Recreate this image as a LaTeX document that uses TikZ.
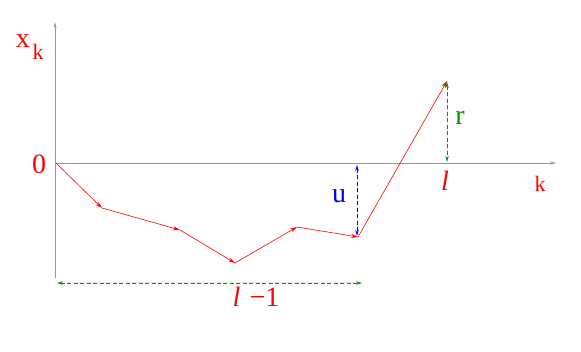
\documentclass[tikz,border=0pt]{standalone}
\usepackage{fontspec}
\setmainfont{Liberation Serif}
\usetikzlibrary{arrows.meta}
\definecolor{dgreen}{RGB}{0,150,0}
\definecolor{axisgray}{RGB}{150,150,150}
\begin{document}
\begin{tikzpicture}[x=1pt,y=-1pt,
  axis/.style={draw=axisgray,line width=0.8pt,-{Stealth[length=6pt,width=3pt]}},
  walk/.style={draw=red,line width=0.6pt,-{Stealth[length=7pt,width=4pt]}},
  gap/.style={draw=#1,fill=#1,dash pattern=on 4pt off 2.5pt,line width=0.9pt,{Stealth[length=6pt,width=3.5pt]}-{Stealth[length=6pt,width=3.5pt]}},
  lab/.style={inner sep=0pt,font=\fontsize{28}{28}\selectfont},
  smlab/.style={inner sep=0pt,text=red,font=\fontsize{22}{22}\selectfont}]
\useasboundingbox (0,0) rectangle (581,352);
\coordinate (o) at (55,163);
\coordinate (ytop) at (55,22);
\coordinate (ybot) at (55,278);
\coordinate (xend) at (556,163);
\draw[axis] (ybot) -- (ytop);
\draw[axis] (o) -- (xend);
\coordinate (p0) at (56,163);
\coordinate (p1) at (102,208);
\coordinate (p2) at (180,230);
\coordinate (p3) at (235,263);
\coordinate (p4) at (297,227);
\coordinate (p5) at (358,237);
\coordinate (p6) at (447,81);
\draw[walk] (p0) -- (p1);
\draw[walk] (p1) -- (p2);
\draw[walk] (p2) -- (p3);
\draw[walk] (p3) -- (p4);
\draw[walk] (p4) -- (p5);
\draw[walk] (p5) -- (p6);
\coordinate (ua) at (357,165);
\coordinate (ub) at (357,236);
\draw[gap=blue] (ua) -- (ub);
\node[lab,text=blue] (u) at (339,196) {u};
\coordinate (ra) at (447,82);
\coordinate (rb) at (447,162);
\draw[gap=dgreen] (ra) -- (rb);
\node[lab,text=dgreen] (r) at (460,118) {r};
\coordinate (la) at (57,283);
\coordinate (lb) at (362,283);
\draw[gap=dgreen] (la) -- (lb);
\node[lab,text=red] (lm1) at (256,297) {\textit{l}\,\,−1};
\node[lab,text=red] (l) at (445,181) {\textit{l}};
\node[smlab] (k) at (540,184) {k};
\node[lab,text=red] (zero) at (39,164) {0};
\node[lab,text=red] (x) at (23,41) {x};
\node[smlab] (xk) at (38,52) {k};
\end{tikzpicture}
\end{document}
